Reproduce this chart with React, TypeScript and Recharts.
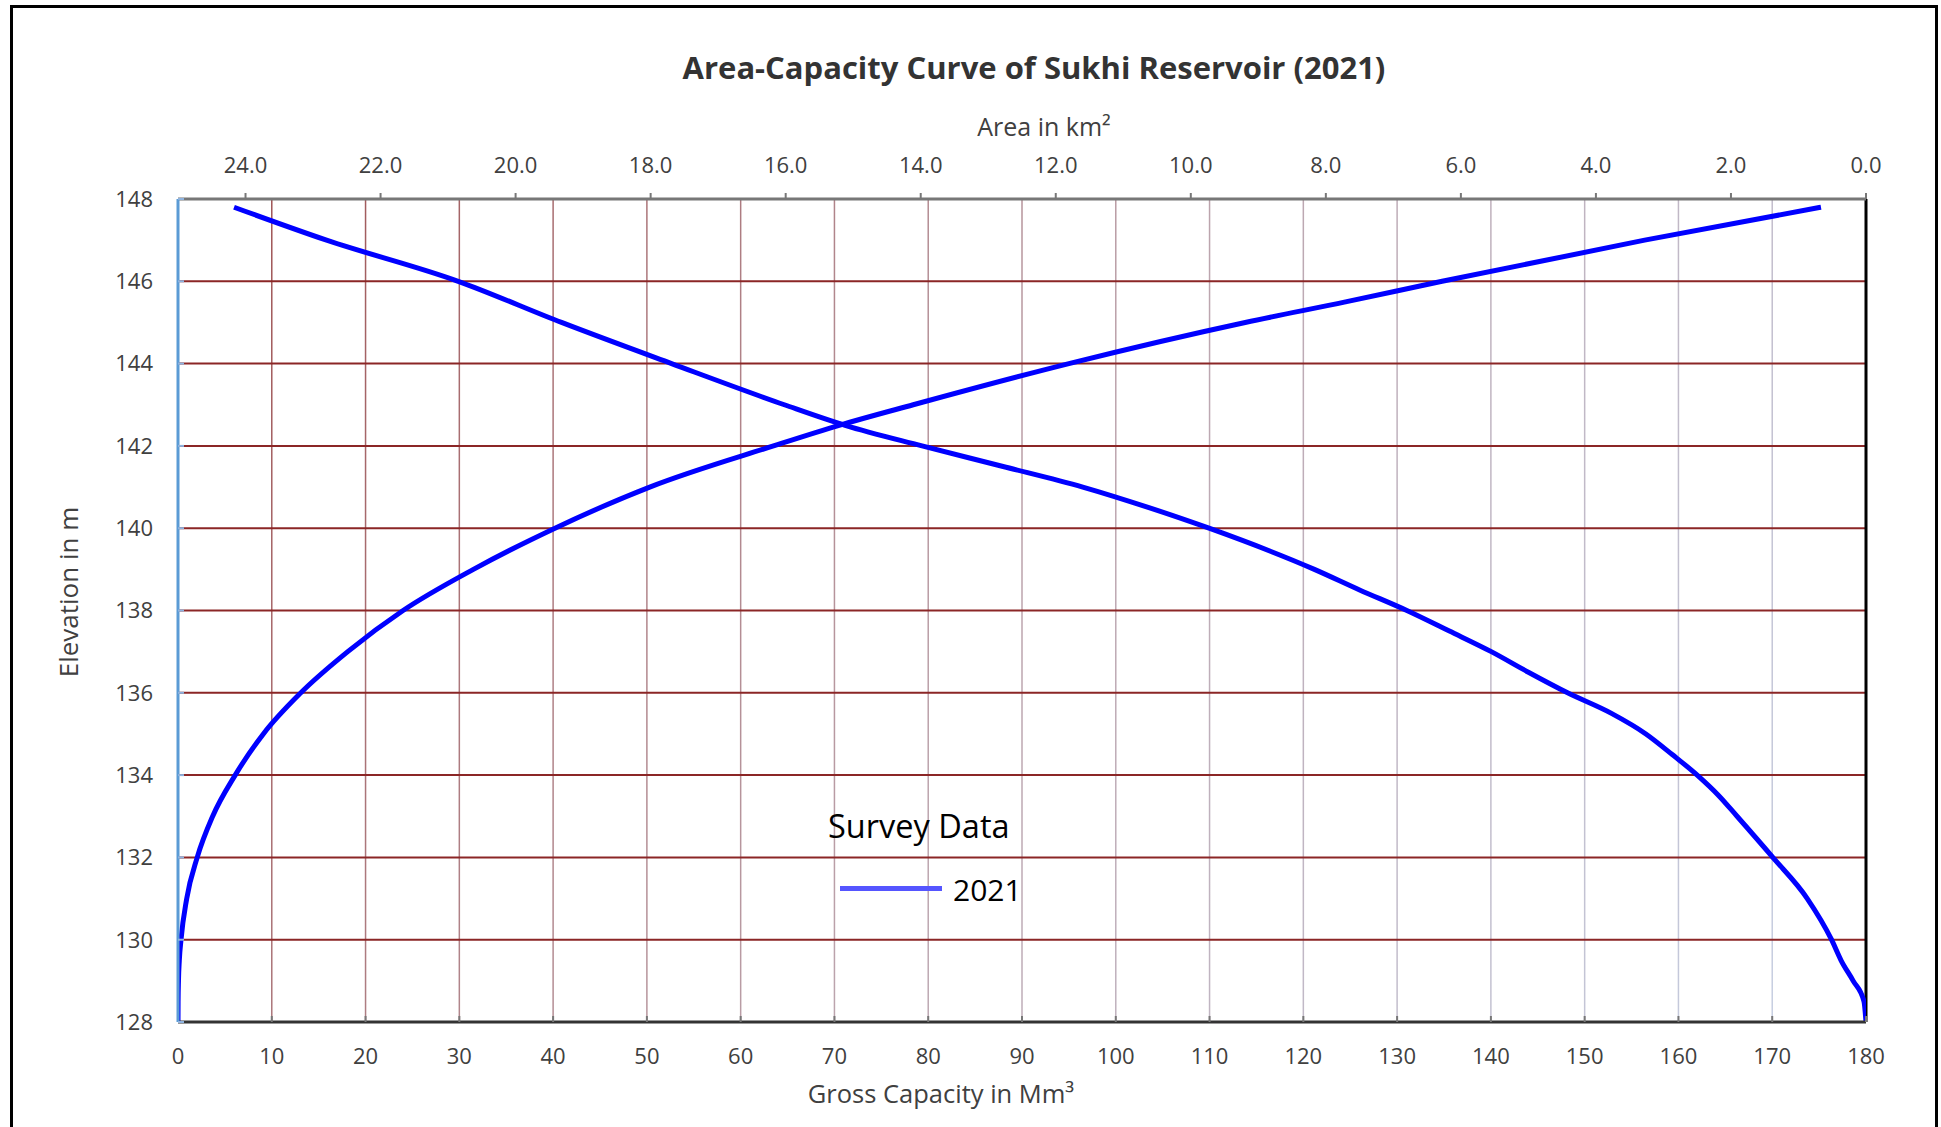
import { LineChart, Line, XAxis, YAxis, CartesianGrid, ReferenceLine } from "recharts";

// axis ticks
const elevationTicks = [128, 130, 132, 134, 136, 138, 140, 142, 144, 146, 148];
const capacityTicks = [0, 10, 20, 30, 40, 50, 60, 70, 80, 90, 100, 110, 120, 130, 140, 150, 160, 170, 180];
const areaTicks = [0, 2, 4, 6, 8, 10, 12, 14, 16, 18, 20, 22, 24];

// gross capacity (Mm3) vs elevation (m), survey 2021
const capacityElevation = [128, 128.5, 129, 129.5, 130, 131, 132, 133, 134, 135, 136, 137, 138, 139, 140, 141, 142, 142.5, 143, 144, 145, 145.5, 146, 147, 147.8];
const grossCapacity = [0, 0.01, 0.05, 0.14, 0.32, 0.93, 2.05, 3.7, 6.1, 9.1, 13.1, 18.1, 24.0, 31.5, 40.2, 50.3, 63.5, 70.5, 78.4, 95.0, 113.8, 124.5, 134.8, 156.4, 175.2];

// water spread area (km2) vs elevation (m)
const areaElevation = [128, 128.5, 129, 129.5, 130, 131, 132, 133, 133.5, 134, 134.5, 135, 135.5, 136, 136.5, 137, 137.5, 138, 138.5, 139, 140, 140.5, 141, 141.5, 142, 142.5, 143, 144, 145, 146, 147, 147.8];
const surfaceArea = [0, 0.03, 0.19, 0.37, 0.51, 0.87, 1.38, 1.91, 2.18, 2.5, 2.87, 3.26, 3.77, 4.42, 5.0, 5.55, 6.17, 6.8, 7.5, 8.17, 9.73, 10.62, 11.6, 12.78, 13.98, 15.12, 16.02, 17.69, 19.32, 20.85, 22.8, 24.17];

const capacityData = capacityElevation.map((elev, i) => ({ elev, capacity: grossCapacity[i] }));
// area axis is reversed, so feed it from the top down to keep x increasing on screen
const areaData = areaElevation.map((elev, i) => ({ elev, area: surfaceArea[i] })).reverse();

const FONT = "'Open Sans', sans-serif";
const tickStyle = { fontSize: 22, fill: "#404040", fontFamily: FONT };

function Text({ x, y, size, children, bold = false, color = "#404040", rotate = false, anchor = "middle" }: any) {
  const tx = anchor === "middle" ? "-50%" : "0";
  return (
    <div
      style={{
        position: "absolute",
        left: x,
        top: y,
        transform: `translate(${tx}, -50%)${rotate ? " rotate(-90deg)" : ""}`,
        transformOrigin: "center",
        fontFamily: FONT,
        fontSize: size,
        fontWeight: bold ? 700 : 400,
        color,
        lineHeight: 1,
        whiteSpace: "nowrap",
      }}
    >
      {children}
    </div>
  );
}

export default function App() {
  return (
    <div style={{ position: "absolute", left: 0, top: 0, width: 1941, height: 1127, background: "#fff", overflow: "hidden" }}>
      <div style={{ position: "absolute", left: 10, top: 5, width: 1922, height: 1140, border: "3px solid #000" }} />
      <div style={{ position: "absolute", left: 0, top: 0 }}>
        <LineChart width={1941} height={1127} margin={{ top: 159, right: 75, bottom: 65, left: 118 }}>
          <defs>
            <linearGradient id="vgrid" gradientUnits="userSpaceOnUse" x1="178" y1="199" x2="1866" y2="1022">
              <stop offset="0" stopColor="#9c4c4c" />
              <stop offset="0.5" stopColor="#bca4ad" />
              <stop offset="1" stopColor="#c7d2e6" />
            </linearGradient>
          </defs>
          <CartesianGrid xAxisId="cap" horizontal={false} stroke="url(#vgrid)" strokeWidth={1.5} />
          <CartesianGrid xAxisId="cap" vertical={false} stroke="#8b2626" strokeWidth={2} />
          <XAxis
            xAxisId="cap"
            dataKey="capacity"
            type="number"
            orientation="bottom"
            domain={[0, 180]}
            ticks={capacityTicks}
            allowDataOverflow
            height={40}
            tick={tickStyle}
            tickSize={-6}
            tickMargin={32}
            tickLine={{ stroke: "#777", strokeWidth: 2 }}
            axisLine={{ stroke: "#333", strokeWidth: 3 }}
          />
          <XAxis
            xAxisId="area"
            dataKey="area"
            type="number"
            orientation="top"
            reversed
            domain={[0, 25]}
            ticks={areaTicks}
            allowDataOverflow
            height={40}
            tick={tickStyle}
            tickFormatter={(v: number) => v.toFixed(1)}
            tickSize={6}
            tickMargin={20}
            tickLine={{ stroke: "#777", strokeWidth: 2 }}
            axisLine={{ stroke: "#777", strokeWidth: 3 }}
          />
          <YAxis
            dataKey="elev"
            type="number"
            domain={[128, 148]}
            ticks={elevationTicks}
            allowDataOverflow
            width={60}
            tick={tickStyle}
            tickSize={-6}
            tickMargin={31}
            tickLine={{ stroke: "#8fb3de", strokeWidth: 2 }}
            axisLine={{ stroke: "#5b9bd5", strokeWidth: 3 }}
          />
          <ReferenceLine xAxisId="cap" x={180} stroke="#000" strokeWidth={3} />
          <Line
            xAxisId="cap"
            data={capacityData}
            dataKey="elev"
            type="monotone"
            stroke="#0000ff"
            strokeWidth={5}
            dot={false}
            isAnimationActive={false}
          />
          <Line
            xAxisId="area"
            data={areaData}
            dataKey="elev"
            type="monotone"
            stroke="#0000ff"
            strokeWidth={5}
            dot={false}
            isAnimationActive={false}
          />
        </LineChart>
      </div>
      <Text x={1034} y={67} size={31} bold color="#333">Area-Capacity Curve of Sukhi Reservoir (2021)</Text>
      <Text x={1044} y={126} size={25}>Area in km²</Text>
      <Text x={941} y={1094} size={25.5}>Gross Capacity in Mm³</Text>
      <Text x={68} y={592} size={26} rotate>Elevation in m</Text>
      <Text x={828} y={826} size={32.5} color="#000" anchor="start">Survey Data</Text>
      <div style={{ position: "absolute", left: 840, top: 886, width: 102, height: 5, background: "#5555ff" }} />
      <Text x={953} y={890} size={30} color="#000" anchor="start">2021</Text>
    </div>
  );
}
